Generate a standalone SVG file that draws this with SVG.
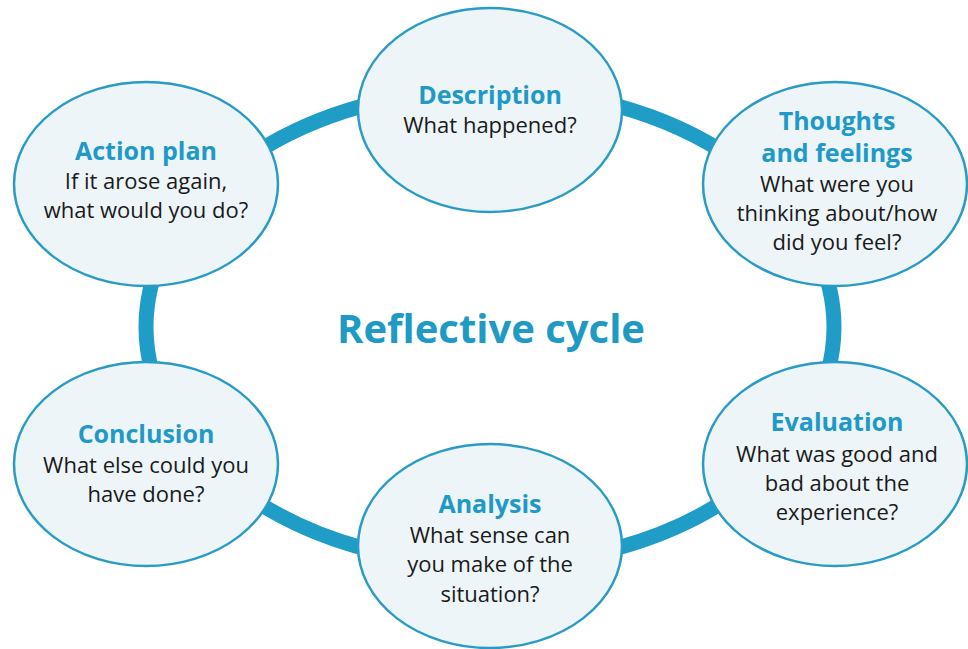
<svg xmlns="http://www.w3.org/2000/svg" width="968" height="649" viewBox="0 0 968 649">
<style>
.node{fill:#EDF5F9;stroke:#2A9BC5;stroke-width:2.5}
.ring{fill:none;stroke:#1F9DC6;stroke-width:15}
.h{font-family:"Open Sans","Liberation Sans",sans-serif;font-weight:bold;font-size:25px;fill:#2199C8;text-anchor:middle}
.b{font-family:"Open Sans","Liberation Sans",sans-serif;font-size:22px;fill:#1a1a1a;text-anchor:middle}
.t{font-family:"Open Sans","Liberation Sans",sans-serif;font-weight:bold;font-size:40px;fill:#1E9AC5;text-anchor:middle}
</style>
<rect width="968" height="649" fill="#ffffff"/>
<g id="connectors">
<ellipse class="ring" cx="490" cy="327" rx="344" ry="238"/>
</g>
<text class="t" x="491" y="343">Reflective cycle</text>
<g id="description">
<ellipse class="node" cx="490" cy="110" rx="132" ry="102"/>
<text class="h" x="490" y="104">Description</text>
<text class="b" x="490" y="133">What happened?</text>
</g>
<g id="thoughts">
<ellipse class="node" cx="835" cy="184" rx="132" ry="102"/>
<text class="h" x="837" y="130">Thoughts</text>
<text class="h" x="837" y="162">and feelings</text>
<text class="b" x="837" y="192">What were you</text>
<text class="b" x="837" y="221">thinking about/how</text>
<text class="b" x="837" y="250">did you feel?</text>
</g>
<g id="evaluation">
<ellipse class="node" cx="835" cy="464" rx="132" ry="102"/>
<text class="h" x="837" y="431">Evaluation</text>
<text class="b" x="837" y="462">What was good and</text>
<text class="b" x="837" y="491">bad about the</text>
<text class="b" x="837" y="520">experience?</text>
</g>
<g id="analysis">
<ellipse class="node" cx="490" cy="546" rx="132" ry="102"/>
<text class="h" x="490" y="513">Analysis</text>
<text class="b" x="490" y="543">What sense can</text>
<text class="b" x="490" y="572">you make of the</text>
<text class="b" x="490" y="602">situation?</text>
</g>
<g id="conclusion">
<ellipse class="node" cx="146" cy="464" rx="132" ry="102"/>
<text class="h" x="146" y="443">Conclusion</text>
<text class="b" x="146" y="473">What else could you</text>
<text class="b" x="146" y="502">have done?</text>
</g>
<g id="action-plan">
<ellipse class="node" cx="146" cy="184" rx="132" ry="102"/>
<text class="h" x="146" y="160">Action plan</text>
<text class="b" x="146" y="189">If it arose again,</text>
<text class="b" x="146" y="218">what would you do?</text>
</g>
</svg>
